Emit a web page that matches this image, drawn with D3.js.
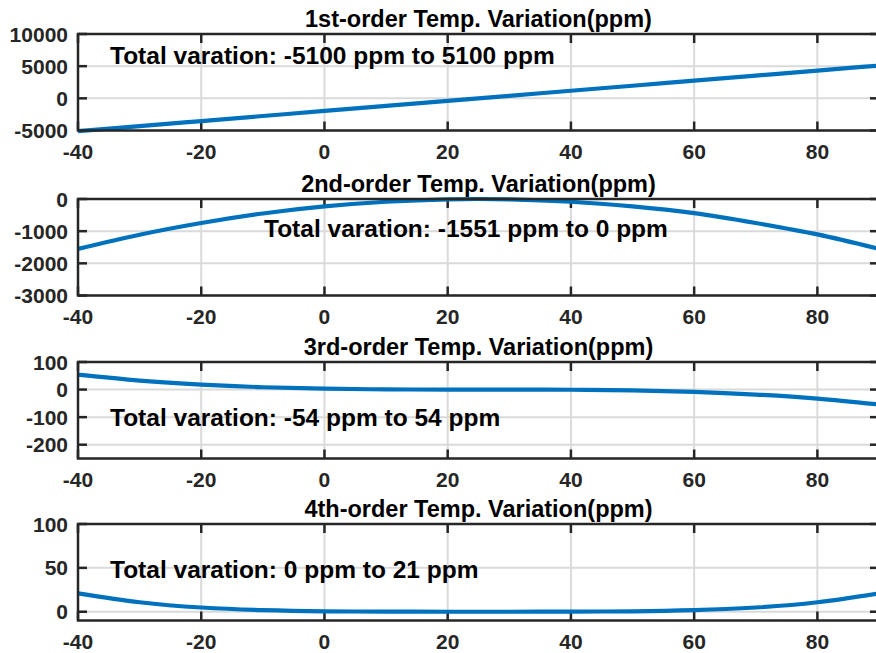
<!DOCTYPE html>
<html lang="en">
<head>
    <meta charset="UTF-8">
    <title>Temp. Variation</title>
    <script src="https://d3js.org/d3.v7.min.js"></script>
    <style>
        body {
            margin: 0;
            padding: 0;
            background-color: #ffffff;
        }
        svg {
            display: block;
            font-family: "Liberation Sans", Arial, Helvetica, sans-serif;
            font-weight: bold;
        }
        .tick-label {
            font-size: 21px;
            fill: #262626;
        }
        .title {
            font-size: 23.5px;
            fill: #000;
        }
        .note {
            font-size: 24.5px;
            fill: #000;
        }
    </style>
</head>
<body>
    <svg id="chart" width="876" height="653"></svg>

    <script>
        // Temperature points (deg C) and readings for each order (ppm)
        const temps = [-40, -30, -20, -10, 0, 10, 20, 30, 40, 50, 60, 70, 80, 90];
        const firstOrder = [-5100, -4310, -3530, -2750, -1960, -1180, -390, 390, 1180, 1960, 2750, 3530, 4310, 5100];
        const secondOrder = [-1551, -1110, -745, -450, -230, -85, -10, -10, -85, -230, -440, -745, -1100, -1551];
        const thirdOrder = [54, 32.5, 18, 8.4, 3.1, 0.7, 0, 0, -0.7, -3.1, -8.4, -18, -32.5, -54];
        const fourthOrder = [21, 10.8, 4.8, 1.8, 0.5, 0.1, 0, 0, 0.1, 0.5, 1.8, 4.8, 10.8, 21];

        const xTicks = [-40, -20, 0, 20, 40, 60, 80];

        const titles = [
            "1st-order Temp. Variation(ppm)",
            "2nd-order Temp. Variation(ppm)",
            "3rd-order Temp. Variation(ppm)",
            "4th-order Temp. Variation(ppm)"
        ];
        const notes = [
            "Total varation: -5100 ppm to 5100 ppm",
            "Total varation: -1551 ppm to 0 ppm",
            "Total varation: -54 ppm to 54 ppm",
            "Total varation: 0 ppm to 21 ppm"
        ];
        const yDomains = [[-5000, 10000], [-3000, 0], [-250, 100], [-10, 100]];
        const yTicks = [
            [-5000, 0, 5000, 10000],
            [-3000, -2000, -1000, 0],
            [-200, -100, 0, 100],
            [0, 50, 100]
        ];
        const series = [firstOrder, secondOrder, thirdOrder, fourthOrder];

        // layout
        const left = 78, right = 879;
        const panelTops = [34, 199, 362, 524];
        const panelHeight = 96.5;
        const notePos = [[110, 64], [264, 237], [110, 426], [110, 578]];

        const svg = d3.select("#chart");
        const tickLen = 9;

        const xScale = d3.scaleLinear()
            .domain([-40, 90])
            .range([left, right]);

        series.forEach((values, i) => {
            const top = panelTops[i];
            const bottom = top + panelHeight;
            const yScale = d3.scaleLinear()
                .domain(yDomains[i])
                .range([bottom, top]);

            const g = svg.append("g");

            // grid
            g.selectAll(".vgrid")
                .data(xTicks)
                .enter().append("line")
                .attr("x1", d => xScale(d)).attr("x2", d => xScale(d))
                .attr("y1", top).attr("y2", bottom)
                .attr("stroke", "#dadada").attr("stroke-width", 2);
            g.selectAll(".hgrid")
                .data(yTicks[i])
                .enter().append("line")
                .attr("x1", left).attr("x2", right)
                .attr("y1", d => yScale(d)).attr("y2", d => yScale(d))
                .attr("stroke", "#dadada").attr("stroke-width", 2);

            // tick marks (inside, all four sides)
            xTicks.forEach(t => {
                const x = xScale(t);
                g.append("line").attr("x1", x).attr("x2", x)
                    .attr("y1", bottom).attr("y2", bottom - tickLen)
                    .attr("stroke", "#262626").attr("stroke-width", 2.5);
                g.append("line").attr("x1", x).attr("x2", x)
                    .attr("y1", top).attr("y2", top + tickLen)
                    .attr("stroke", "#262626").attr("stroke-width", 2.5);
            });
            yTicks[i].forEach(t => {
                const y = yScale(t);
                g.append("line").attr("x1", left).attr("x2", left + tickLen)
                    .attr("y1", y).attr("y2", y)
                    .attr("stroke", "#262626").attr("stroke-width", 2.5);
                g.append("line").attr("x1", right).attr("x2", right - tickLen)
                    .attr("y1", y).attr("y2", y)
                    .attr("stroke", "#262626").attr("stroke-width", 2.5);
            });

            // data line
            const line = d3.line()
                .x((d, j) => xScale(temps[j]))
                .y(d => yScale(d))
                .curve(d3.curveNatural);

            g.append("path")
                .datum(values)
                .attr("d", line)
                .attr("fill", "none")
                .attr("stroke", "#0072BD")
                .attr("stroke-width", 4.2);

            // box
            g.append("rect")
                .attr("x", left).attr("y", top)
                .attr("width", right - left).attr("height", panelHeight)
                .attr("fill", "none")
                .attr("stroke", "#262626").attr("stroke-width", 2.5);

            // tick labels
            g.selectAll(".xl")
                .data(xTicks)
                .enter().append("text")
                .attr("class", "tick-label")
                .attr("x", d => xScale(d))
                .attr("y", bottom + 28)
                .attr("text-anchor", "middle")
                .text(d => d);
            g.selectAll(".yl")
                .data(yTicks[i])
                .enter().append("text")
                .attr("class", "tick-label")
                .attr("x", left - 10)
                .attr("y", d => yScale(d))
                .attr("dy", "0.36em")
                .attr("text-anchor", "end")
                .text(d => d);

            // title
            g.append("text")
                .attr("class", "title")
                .attr("x", (left + right) / 2)
                .attr("y", top - 7)
                .attr("text-anchor", "middle")
                .text(titles[i]);

            // annotation
            g.append("text")
                .attr("class", "note")
                .attr("x", notePos[i][0])
                .attr("y", notePos[i][1])
                .text(notes[i]);
        });
    </script>
</body>
</html>
